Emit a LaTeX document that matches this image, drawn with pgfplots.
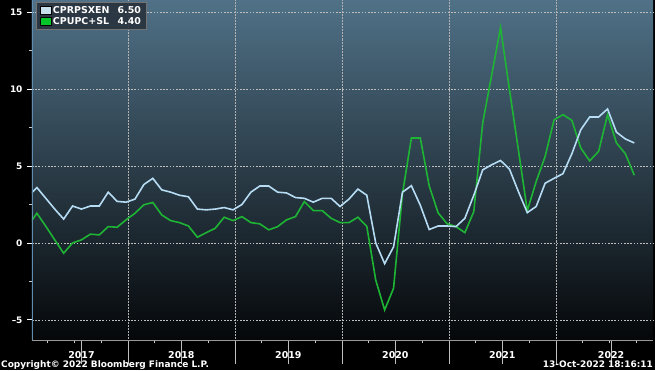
\documentclass[border=0pt]{standalone}
\usepackage{fontspec}
\setmainfont{DejaVu Sans}
\usepackage{pgfplots}
\pgfplotsset{compat=1.18}
\definecolor{bgtop}{RGB}{80,113,135}
\definecolor{bgmid}{RGB}{27,41,54}
\definecolor{bgbot}{RGB}{5,7,9}
\definecolor{bluel}{RGB}{182,220,244}
\definecolor{bluepatch}{RGB}{215,244,255}
\definecolor{greenl}{RGB}{30,180,52}
\definecolor{greenpatch}{RGB}{0,215,40}
\definecolor{legbg}{RGB}{40,50,60}
\definecolor{leftline}{RGB}{95,140,175}
\pgfplotstableread{
m v
1 3.0
2 3.6
3 2.9
4 2.2
5 1.55
6 2.4
7 2.2
8 2.4
9 2.4
10 3.3
11 2.7
12 2.65
13 2.85
14 3.8
15 4.2
16 3.45
17 3.3
18 3.1
19 3.0
20 2.2
21 2.15
22 2.2
23 2.3
24 2.15
25 2.5
26 3.3
27 3.7
28 3.7
29 3.3
30 3.25
31 2.95
32 2.9
33 2.65
34 2.9
35 2.9
36 2.37
37 2.85
38 3.5
39 3.1
40 0.0
41 -1.35
42 -0.26
43 3.3
44 3.72
45 2.45
46 0.87
47 1.1
48 1.1
49 1.06
50 1.6
51 3.1
52 4.75
53 5.08
54 5.36
55 4.8
56 3.34
57 1.97
58 2.37
59 3.88
60 4.2
61 4.5
62 5.8
63 7.36
64 8.19
65 8.19
66 8.71
67 7.2
68 6.76
69 6.5
}\blueseries
\pgfplotstableread{
m v
1 1.1
2 1.93
3 1.08
4 0.2
5 -0.67
6 0.0
7 0.2
8 0.57
9 0.52
10 1.06
11 1.02
12 1.5
13 1.93
14 2.48
15 2.63
16 1.82
17 1.45
18 1.32
19 1.1
20 0.37
21 0.67
22 0.95
23 1.67
24 1.45
25 1.71
26 1.32
27 1.24
28 0.85
29 1.06
30 1.5
31 1.71
32 2.69
33 2.1
34 2.1
35 1.6
36 1.32
37 1.32
38 1.67
39 1.08
40 -2.41
41 -4.36
42 -2.95
43 3.2
44 6.82
45 6.82
46 3.7
47 1.95
48 1.25
49 1.06
50 0.67
51 2.04
52 7.8
53 10.9
54 14.0
55 9.97
56 6.06
57 2.1
58 4.0
59 5.62
60 8.0
61 8.34
62 7.97
63 6.17
64 5.34
65 5.95
66 8.34
67 6.5
68 5.8
69 4.4
}\greenseries
\begin{document}
\begin{tikzpicture}[x=1bp,y=1bp]
\fill[black] (0,0) rectangle (655,370);
\begin{axis}[
  at={(32bp,30bp)}, anchor=south west,
  scale only axis, width=621bp, height=340bp,
  xmin=1.45, xmax=71.1, ymin=-6.33, ymax=15.78,
  axis background/.style={shade, top color=bgtop, middle color=bgmid, bottom color=bgbot},
  axis line style={draw=none},
  tick align=outside,
  xtick pos=bottom, ytick pos=left,
  xtick={12.2,24.2,36.2,48.2,60.2},
  xticklabels={},
  xtick style={draw=white!75!black, line width=0.6bp, /pgfplots/major tick length=24bp},
  minor xtick={3.2,6.2,9.2,15.2,18.2,21.2,27.2,30.2,33.2,39.2,42.2,45.2,51.2,54.2,57.2,63.2,66.2,69.2},
  minor x tick style={draw=white!80!black, line width=0.6bp},
  minor tick length=3bp,
  major tick length=5bp,
  ytick={-5,0,5,10,15},
  yticklabels={--5,0,5,10,15},
  minor ytick={-2.5,2.5,7.5,12.5},
  ytick style={draw=white, line width=0.8bp},
  minor y tick style={draw=white!80!black, line width=0.6bp},
  xmajorgrids, ymajorgrids,
  major x grid style={white!70!black, line width=0.5bp, densely dotted},
  major y grid style={white!75!black, line width=0.6bp, dash pattern=on 1.6bp off 1.6bp},
  yticklabel style={text=white, font=\bfseries\fontsize{9}{10}\selectfont, xshift=-1bp},
  extra x ticks={7.0,18.2,30.2,42.2,54.2,66.4},
  extra x tick labels={2017,2018,2019,2020,2021,2022},
  extra x tick style={grid=none, /pgfplots/major tick length=0bp,
     tick label style={text=white, font=\bfseries\fontsize{9.5}{10}\selectfont, anchor=center, yshift=-15bp}},
  legend style={at={(0.0065,0.994)}, anchor=north west, fill=legbg, fill opacity=0.9, text opacity=1,
     draw=white!45!black, line width=0.6bp, text=white, font=\bfseries\fontsize{9.5}{10}\selectfont,
     inner xsep=4bp, inner ysep=2.5bp, row sep=0.5bp,
     nodes={inner sep=1bp, text height=7bp, text depth=1.5bp}},
  legend cell align=left,
]
\addplot[color=greenl, line width=1.6bp, forget plot] table[x=m, y=v] {\greenseries};
\addplot[color=bluel, line width=1.6bp, forget plot] table[x=m, y=v] {\blueseries};
\addlegendimage{legend image code/.code={\fill[fill=bluepatch] (0bp,-3.5bp) rectangle (11bp,4bp);}}
\addlegendentry{\makebox[88bp][l]{CPRPSXEN\hfill 6.50}}
\addlegendimage{legend image code/.code={\fill[fill=greenpatch] (0bp,-3.5bp) rectangle (11bp,4bp);}}
\addlegendentry{\makebox[88bp][l]{CPUPC+SL\hfill 4.40}}
\draw[leftline, line width=1.2bp] (rel axis cs:0,0) -- (rel axis cs:0,1);
\draw[white!60!black, line width=0.8bp] (rel axis cs:0,0) -- (rel axis cs:1,0);
\end{axis}
\node[anchor=base west, inner sep=0, text=white, font=\bfseries\fontsize{9}{10}\selectfont] at (1,2.5) {Copyright\textcopyright{} 2022 Bloomberg Finance L.P.};
\node[anchor=base east, inner sep=0, text=white, font=\bfseries\fontsize{9}{10}\selectfont] at (653,2.5) {13-Oct-2022 18:16:11};
\end{tikzpicture}
\end{document}
